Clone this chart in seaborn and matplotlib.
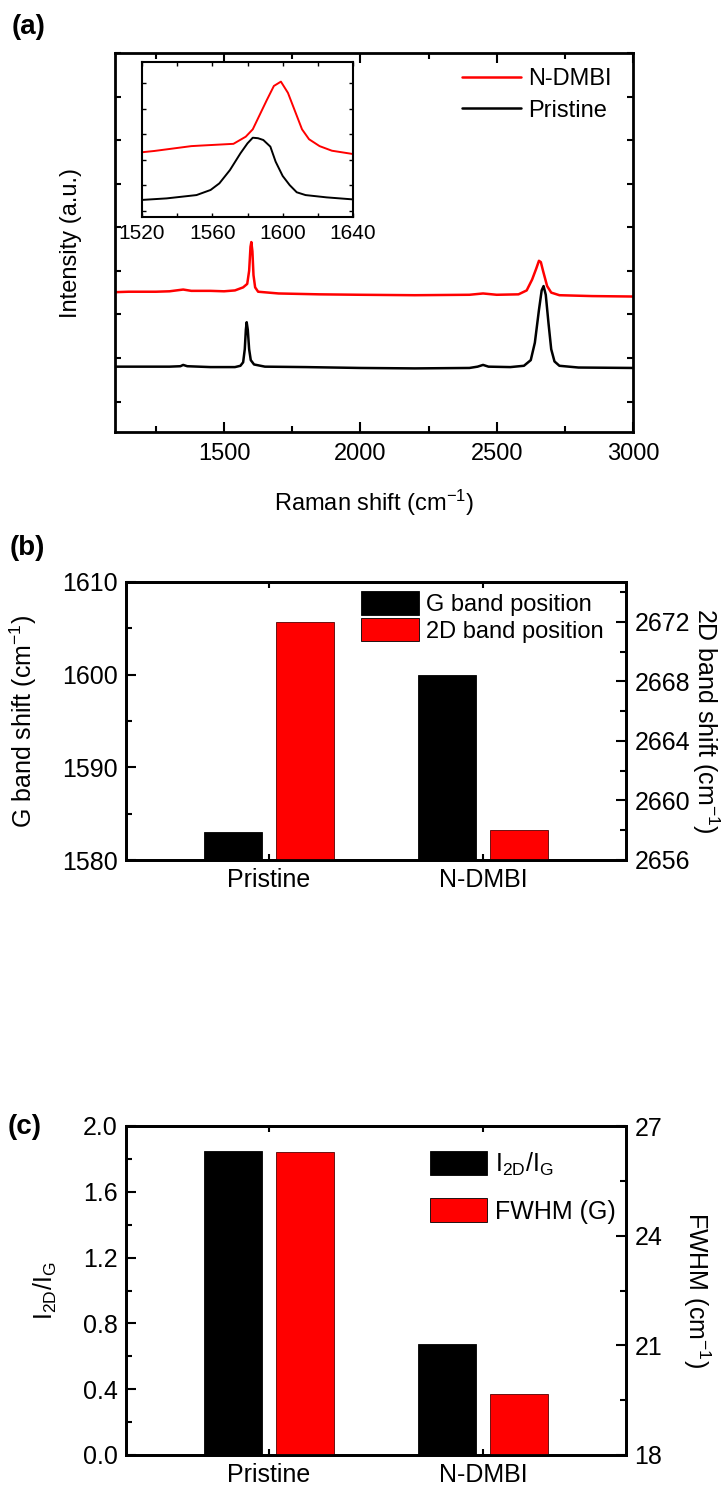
import numpy as np
import pandas as pd
import matplotlib
matplotlib.use("Agg")
import matplotlib.pyplot as plt
import matplotlib.patches as mpatches
from matplotlib import font_manager
from matplotlib.ticker import MultipleLocator, FormatStrFormatter
import seaborn as sns


# (a) Raman spectra (cm-1, a.u.)
pristine_x = [1100, 1200, 1300, 1340, 1350, 1365, 1450, 1540, 1560, 1570, 1576, 1580,
              1583, 1587, 1592, 1598, 1610, 1650, 1800, 2000, 2200, 2400, 2430, 2450,
              2470, 2550, 2600, 2625, 2640, 2655, 2665, 2672, 2680, 2690, 2700, 2712,
              2730, 2800, 3000]
pristine_y = [0.80, 0.80, 0.80, 0.81, 0.84, 0.81, 0.79, 0.79, 0.82, 0.90, 1.20, 1.65,
              1.82, 1.65, 1.20, 0.95, 0.85, 0.80, 0.79, 0.77, 0.76, 0.77, 0.80, 0.84,
              0.80, 0.79, 0.82, 0.95, 1.35, 2.10, 2.55, 2.65, 2.45, 1.80, 1.20, 0.92,
              0.82, 0.78, 0.77]
ndmbi_x = [1100, 1150, 1250, 1300, 1350, 1380, 1450, 1500, 1540, 1570, 1585, 1592,
           1597, 1600, 1604, 1608, 1614, 1625, 1700, 1850, 2000, 2200, 2400, 2450,
           2500, 2580, 2610, 2630, 2645, 2655, 2662, 2670, 2685, 2700, 2730, 2850, 3000]
ndmbi_y = [2.51, 2.52, 2.52, 2.53, 2.57, 2.54, 2.54, 2.53, 2.55, 2.62, 2.70, 3.00,
           3.55, 3.66, 3.45, 2.90, 2.62, 2.52, 2.48, 2.46, 2.45, 2.44, 2.45, 2.48,
           2.45, 2.46, 2.55, 2.80, 3.05, 3.23, 3.20, 3.00, 2.65, 2.50, 2.44, 2.42, 2.41]

# inset: G band region
inset_pristine_x = [1520, 1534, 1551, 1559, 1564, 1570, 1576, 1580, 1583, 1586, 1589,
                    1593, 1596, 1600, 1604, 1608, 1613, 1625, 1640]
inset_pristine_y = [0.43, 0.49, 0.62, 0.82, 1.08, 1.60, 2.26, 2.65, 2.87, 2.85, 2.78,
                    2.52, 1.93, 1.37, 1.01, 0.73, 0.62, 0.53, 0.45]
inset_ndmbi_x = [1520, 1527, 1548, 1553, 1572, 1579, 1583, 1591, 1595, 1599, 1603,
                 1611, 1615, 1621, 1628, 1640]
inset_ndmbi_y = [2.30, 2.35, 2.54, 2.56, 2.63, 2.91, 3.20, 4.35, 4.90, 5.07, 4.63,
                 3.20, 2.81, 2.54, 2.36, 2.23]

# (b) and (c) bar values
samples = ['Pristine', 'N-DMBI']
g_band_pos = [1583.0, 1600.0]
d2_band_pos = [2672.0, 2658.0]
i2d_ig = [1.845, 0.672]
fwhm_g = [26.28, 19.68]


def pick_font(names):
    for n in names:
        try:
            font_manager.findfont(font_manager.FontProperties(family=n),
                                  fallback_to_default=False)
            return n
        except ValueError:
            pass
    return 'DejaVu Sans'


sns.set_style('ticks')
main_font = pick_font(['Liberation Sans', 'Arial', 'DejaVu Sans'])
narrow_font = pick_font(['Liberation Sans Narrow', 'Arial Narrow', main_font])
plt.rcParams['font.family'] = [main_font, 'DejaVu Sans']
plt.rcParams['mathtext.fontset'] = 'custom'
plt.rcParams['mathtext.rm'] = main_font
plt.rcParams['mathtext.default'] = 'regular'
for k in ['text.color', 'axes.labelcolor', 'xtick.color', 'ytick.color', 'axes.edgecolor']:
    plt.rcParams[k] = 'black'

W, H = 725, 1489
fig = plt.figure(figsize=(W / 100, H / 100), dpi=100)


def px_axes(l, t, r, b):
    # axes from pixel box (left, top, right, bottom)
    return fig.add_axes([l / W, 1 - b / H, (r - l) / W, (b - t) / H])


def style_spines(ax, lw=2.0):
    for s in ax.spines.values():
        s.set_linewidth(lw)
        s.set_color('black')
        s.set_visible(True)


# ---------------- (a) ----------------
ax_a = px_axes(115, 53, 633, 432)
sns.lineplot(x=ndmbi_x, y=ndmbi_y, ax=ax_a, color='#ff0000', lw=1.8, label='N-DMBI')
sns.lineplot(x=pristine_x, y=pristine_y, ax=ax_a, color='black', lw=1.8, label='Pristine')
ax_a.set_xlim(1100, 3000)
ax_a.set_ylim(-0.7, 8.0)
ax_a.xaxis.set_major_locator(MultipleLocator(500))
ax_a.xaxis.set_minor_locator(MultipleLocator(250))
ax_a.yaxis.set_major_locator(MultipleLocator(1))
ax_a.set_yticklabels([])
ax_a.tick_params(which='both', direction='in', top=True, right=True, width=1.5,
                 labelsize=17, pad=8)
ax_a.tick_params(which='major', length=7)
ax_a.tick_params(which='minor', length=4)
ax_a.tick_params(axis='y', length=4)
style_spines(ax_a)
ax_a.set_xlabel('Raman shift (cm$^{-1}$)', fontsize=17, labelpad=16)
ax_a.set_ylabel('Intensity (a.u.)', fontsize=17)
ax_a.yaxis.set_label_coords(-0.064, 0.5)
ax_a.legend(loc='upper left', bbox_to_anchor=(0.651, 0.985), frameon=False, fontsize=17,
            handlelength=2.5, handletextpad=0.3, labelspacing=0.4, borderaxespad=0.0)

# inset
ax_in = px_axes(142, 62, 353, 217)
sns.lineplot(x=inset_ndmbi_x, y=inset_ndmbi_y, ax=ax_in, color='#ff0000', lw=1.4)
sns.lineplot(x=inset_pristine_x, y=inset_pristine_y, ax=ax_in, color='black', lw=1.4)
ax_in.set_xlim(1520, 1640)
ax_in.set_ylim(-0.24, 5.84)
ax_in.xaxis.set_major_locator(MultipleLocator(40))
ax_in.xaxis.set_minor_locator(MultipleLocator(20))
ax_in.yaxis.set_major_locator(MultipleLocator(1))
ax_in.set_yticklabels([])
ax_in.tick_params(which='both', direction='in', top=True, right=True, width=1.0,
                  labelsize=15, pad=5, length=3)
style_spines(ax_in, 1.5)
ax_in.set_xlabel('')
ax_in.set_ylabel('')


# ---------------- bars ----------------
bar_colors = {'left': 'black', 'right': '#ff0000'}


def twin_bars(ax, left_vals, right_vals, left_name, right_name):
    df = pd.DataFrame({'sample': samples * 2,
                       'value': list(left_vals) + list(right_vals),
                       'series': [left_name] * 2 + [right_name] * 2})
    order = [left_name, right_name]
    pal = {left_name: bar_colors['left'], right_name: bar_colors['right']}
    ax2 = ax.twinx()
    sns.barplot(data=df[df['series'] == left_name], x='sample', y='value', hue='series',
                hue_order=order, palette=pal, order=samples, dodge=True, width=0.672,
                gap=0.19, errorbar=None, legend=False, ax=ax, saturation=1,
                edgecolor='black', linewidth=0.6)
    sns.barplot(data=df[df['series'] == right_name], x='sample', y='value', hue='series',
                hue_order=order, palette=pal, order=samples, dodge=True, width=0.672,
                gap=0.19, errorbar=None, legend=False, ax=ax2, saturation=1,
                edgecolor='#550000', linewidth=0.6)
    ax.set_xlim(-0.668, 1.668)
    ax2.set_xlim(-0.668, 1.668)
    handles = [mpatches.Patch(facecolor=pal[n], edgecolor='black', lw=0.6, label=n)
               for n in order]
    return ax2, handles


def style_bar_axes(ax, ax2):
    for a in (ax, ax2):
        style_spines(a)
        a.set_xlabel('')
    ax.tick_params(axis='x', which='major', direction='in', length=4, width=1.5,
                   labelsize=18, pad=6, top=True)
    ax.tick_params(axis='y', which='both', direction='in', width=1.5, labelsize=18,
                   pad=6)
    ax.tick_params(axis='y', which='major', length=7)
    ax.tick_params(axis='y', which='minor', length=4)
    ax2.tick_params(axis='y', which='both', direction='in', width=1.5, labelsize=18,
                    pad=6)
    ax2.tick_params(axis='y', which='major', length=7)
    ax2.tick_params(axis='y', which='minor', length=4)
    for lab in ax.get_xticklabels() + ax.get_yticklabels() + ax2.get_yticklabels():
        lab.set_fontfamily([narrow_font, main_font])


# (b)
ax_b = px_axes(126, 582, 626, 860)
ax_b2, h_b = twin_bars(ax_b, g_band_pos, d2_band_pos, 'G band position', '2D band position')
ax_b.set_ylim(1580, 1610)
ax_b.yaxis.set_major_locator(MultipleLocator(10))
ax_b.yaxis.set_minor_locator(MultipleLocator(5))
ax_b2.set_ylim(2656, 2674.67)
ax_b2.yaxis.set_major_locator(MultipleLocator(4))
ax_b2.yaxis.set_minor_locator(MultipleLocator(2))
style_bar_axes(ax_b, ax_b2)
ax_b.set_ylabel('G band shift (cm$^{-1}$)', fontsize=18)
ax_b.yaxis.set_label_coords(-0.174, 0.5)
ax_b2.set_ylabel('2D band shift (cm$^{-1}$)', fontsize=18, rotation=270, va='center')
ax_b2.yaxis.set_label_coords(1.16, 0.5)
ax_b2.legend(handles=h_b, loc='upper left', bbox_to_anchor=(0.452, 1.0), frameon=False,
             fontsize=17, handlelength=2.45, handleheight=1.15, handletextpad=0.3,
             labelspacing=0.08, borderaxespad=0.0)

# (c)
ax_c = px_axes(126, 1126, 626, 1455)
ax_c2, h_c = twin_bars(ax_c, i2d_ig, fwhm_g, 'I$_{2D}$/I$_G$', 'FWHM (G)')
ax_c.set_ylim(0, 2.0)
ax_c.yaxis.set_major_locator(MultipleLocator(0.4))
ax_c.yaxis.set_minor_locator(MultipleLocator(0.2))
ax_c2.set_ylim(18, 27)
ax_c2.yaxis.set_major_locator(MultipleLocator(3))
ax_c2.yaxis.set_minor_locator(MultipleLocator(1.5))
style_bar_axes(ax_c, ax_c2)
ax_c.yaxis.set_major_formatter(FormatStrFormatter('%.1f'))
for lab in ax_c.get_yticklabels():
    lab.set_fontfamily([narrow_font, main_font])
ax_c.set_ylabel('I$_{2D}$/I$_G$', fontsize=18)
ax_c.yaxis.set_label_coords(-0.134, 0.5)
ax_c2.set_ylabel('FWHM (cm$^{-1}$)', fontsize=18, rotation=270, va='center')
ax_c2.yaxis.set_label_coords(1.142, 0.5)
ax_c2.legend(handles=h_c, loc='upper left', bbox_to_anchor=(0.588, 0.955), frameon=False,
             fontsize=18, handlelength=2.3, handleheight=1.1, handletextpad=0.3,
             labelspacing=0.8, borderaxespad=0.0)

# panel letters
fig.text(12 / W, 1 - 27 / H, '(a)', fontsize=20, fontweight='bold', va='center')
fig.text(10 / W, 1 - 548 / H, '(b)', fontsize=20, fontweight='bold', va='center')
fig.text(8 / W, 1 - 1127 / H, '(c)', fontsize=20, fontweight='bold', va='center')

fig.savefig('out.png', dpi=100)
